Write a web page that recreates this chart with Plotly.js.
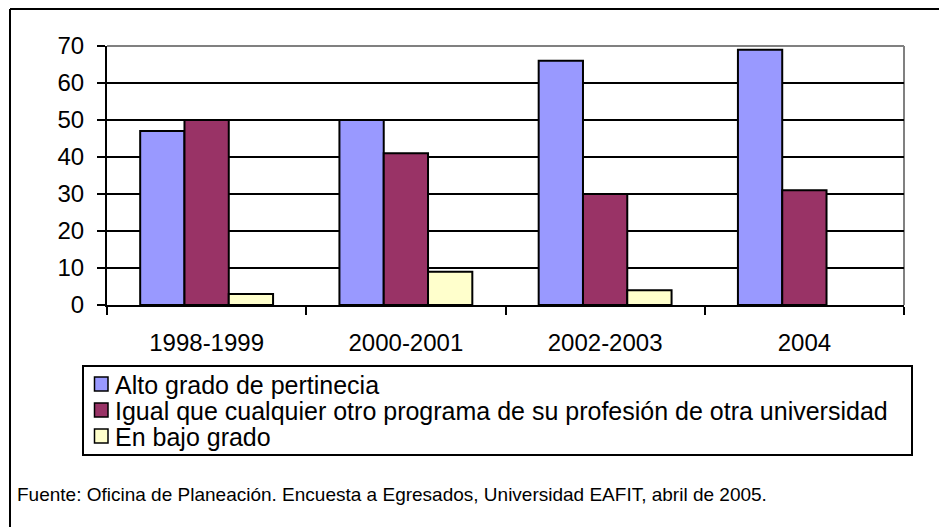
<!DOCTYPE html>
<html>
<head>
<meta charset="utf-8">
<script src="https://cdn.plot.ly/plotly-3.0.1.min.js"></script>
<style>html,body{margin:0;padding:0;background:#fff;}#chart{width:939px;height:527px;}</style>
</head>
<body>
<div id="chart"></div>
<script>
// ---- data ----
var categories = ["1998-1999", "2000-2001", "2002-2003", "2004"];
var seriesNames = [
  "Alto grado de pertinecia",
  "Igual que cualquier otro programa de su profesión de otra universidad",
  "En bajo grado"
];
var altoGrado = [47, 50, 66, 69];
var igualQue = [50, 41, 30, 31];
var bajoGrado = [3, 9, 4, null];
var yTickValues = [0, 10, 20, 30, 40, 50, 60, 70];
var footnote = "Fuente: Oficina de Planeación. Encuesta a Egresados, Universidad EAFIT, abril de 2005.";

// ---- styles ----
var colors = ["#9999FF", "#993366", "#FFFFCC"];
var seriesValues = [altoGrado, igualQue, bajoGrado];
var FONT = "Liberation Sans, Arial, sans-serif";

var W = 939, H = 527;
var M = {l: 107, r: 35, t: 46, b: 222};
var pw = W - M.l - M.r, ph = H - M.t - M.b;
function px(x) { return (x - M.l) / pw; }
function py(y) { return (H - M.b - y) / ph; }

var traces = seriesValues.map(function (vals, i) {
  return {
    type: "bar",
    name: seriesNames[i],
    x: categories,
    y: vals,
    marker: {color: colors[i], line: {color: "#000", width: 2}},
    showlegend: false,
    hoverinfo: "x+y+name"
  };
});

var shapes = [
  // outer frame (left and top edges visible)
  {type: "line", xref: "paper", yref: "paper", x0: px(10), x1: px(10), y0: py(9), y1: py(545), line: {color: "#000", width: 2}},
  {type: "line", xref: "paper", yref: "paper", x0: px(10), x1: px(950), y0: py(9), y1: py(9), line: {color: "#000", width: 2}},
  // plot area border top & right (gray)
  {type: "line", xref: "paper", yref: "paper", x0: 0, x1: 1, y0: 1, y1: 1, line: {color: "#808080", width: 2}, layer: "above"},
  {type: "line", xref: "paper", yref: "paper", x0: 1, x1: 1, y0: 0, y1: 1, line: {color: "#808080", width: 2}, layer: "below"},
  // legend box
  {type: "rect", xref: "paper", yref: "paper", x0: px(83), x1: px(912), y0: py(455), y1: py(366), line: {color: "#000", width: 2}, fillcolor: "rgba(0,0,0,0)"}
];
var annotations = [];
var rowY = [384, 410, 436];
seriesNames.forEach(function (n, i) {
  shapes.push({type: "rect", xref: "paper", yref: "paper", x0: px(94.5), x1: px(108), y0: py(rowY[i] + 7), y1: py(rowY[i] - 7),
    fillcolor: colors[i], line: {color: "#000", width: 1.5}});
  annotations.push({xref: "paper", yref: "paper", x: px(113), y: py(rowY[i] + 1), xanchor: "left", yanchor: "middle",
    text: n, showarrow: false, font: {family: FONT, size: 25, color: "#000"}});
});
annotations.push({xref: "paper", yref: "paper", x: px(15), y: py(494), xanchor: "left", yanchor: "middle",
  text: footnote, showarrow: false, font: {family: FONT, size: 19, color: "#000"}});

var layout = {
  width: W, height: H,
  margin: M,
  paper_bgcolor: "#fff", plot_bgcolor: "#fff",
  font: {family: FONT, color: "#000"},
  barmode: "group",
  bargap: 0.333,
  bargroupgap: 0,
  xaxis: {
    type: "category",
    showline: true, linecolor: "#000", linewidth: 2,
    ticks: "outside", tickson: "boundaries", ticklen: 8, tickwidth: 2, tickcolor: "#000",
    tickfont: {family: FONT, size: 24, color: "#000"},
    ticklabelstandoff: 15,
    showgrid: false, zeroline: false, fixedrange: true
  },
  yaxis: {
    range: [0, 70],
    tickvals: yTickValues,
    showline: true, linecolor: "#000", linewidth: 2,
    ticks: "outside", ticklen: 8, tickwidth: 2, tickcolor: "#000",
    tickfont: {family: FONT, size: 24, color: "#000"},
    ticklabelstandoff: 8,
    showgrid: true, gridcolor: "#000", gridwidth: 1.5,
    zeroline: false, fixedrange: true
  },
  shapes: shapes,
  annotations: annotations
};

Plotly.newPlot("chart", traces, layout, {displayModeBar: false, staticPlot: true});
</script>
</body>
</html>
